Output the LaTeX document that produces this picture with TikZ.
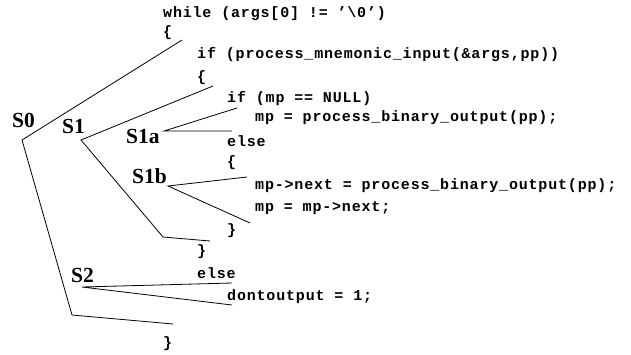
\documentclass[tikz,border=0pt]{standalone}
\usepackage{fontspec}
\newfontfamily\codefont{Liberation Mono}[LetterSpace=5.5]
\newfontfamily\labfont{Liberation Serif}
\begin{document}
\begin{tikzpicture}[x=1pt,y=-1pt,
  code/.style={anchor=base west, inner sep=0pt, font=\codefont\bfseries\fontsize{15}{17}\selectfont},
  lab/.style={anchor=base west, inner sep=0pt, font=\labfont\bfseries\fontsize{21.5}{23}\selectfont},
  conn/.style={line width=0.8pt, line join=miter}]
\useasboundingbox (0,0) rectangle (631,354);
% code lines
\node[code] (w1) at (163,17) {while (args[0] != ’\textbackslash 0’)};
\node[code] (b1) at (163,36) {\{};
\node[code] (i1) at (197,58) {if (process\_mnemonic\_input(\&args,pp))};
\node[code] (b2) at (197,81) {\{};
\node[code] (i2) at (227,102) {if (mp == NULL)};
\node[code] (a1) at (255,121) {mp = process\_binary\_output(pp);};
\node[code] (e1) at (227,146) {else};
\node[code] (b3) at (227,166) {\{};
\node[code] (n1) at (255,189) {mp->next = process\_binary\_output(pp);};
\node[code] (n2) at (255,211) {mp = mp->next;};
\node[code] (c3) at (227,234) {\}};
\node[code] (c2) at (197,255) {\}};
\node[code] (e2) at (197,278) {else};
\node[code] (d1) at (227,300) {dontoutput = 1;};
\node[code] (c1) at (163,347) {\}};
% labels
\node[lab] (S0) at (12,127) {S0};
\node[lab] (S1) at (62,133) {S1};
\node[lab] (S1a) at (126,143) {S1a};
\node[lab] (S1b) at (132,183) {S1b};
\node[lab] (S2) at (71,282) {S2};
% bracket vertices
\coordinate (p01) at (182,40);
\coordinate (p02) at (22,140);
\coordinate (p03) at (72,315);
\coordinate (p04) at (173,324);
\coordinate (p11) at (213,86);
\coordinate (p12) at (81,140);
\coordinate (p13) at (163,237);
\coordinate (p14) at (210,241);
\coordinate (q1) at (237,108);
\coordinate (q2) at (164,131);
\coordinate (q3) at (232,131);
\coordinate (r1) at (247,177);
\coordinate (r2) at (168,186);
\coordinate (r3) at (250,223);
\coordinate (s1) at (232,283);
\coordinate (s2) at (82,287);
\coordinate (s3) at (232,305);
% brackets
\draw[conn] (p01) -- (p02) -- (p03) -- (p04);
\draw[conn] (p11) -- (p12) -- (p13) -- (p14);
\draw[conn] (q1) -- (q2) -- (q3);
\draw[conn] (r1) -- (r2) -- (r3);
\draw[conn] (s1) -- (s2) -- (s3);
\end{tikzpicture}
\end{document}
